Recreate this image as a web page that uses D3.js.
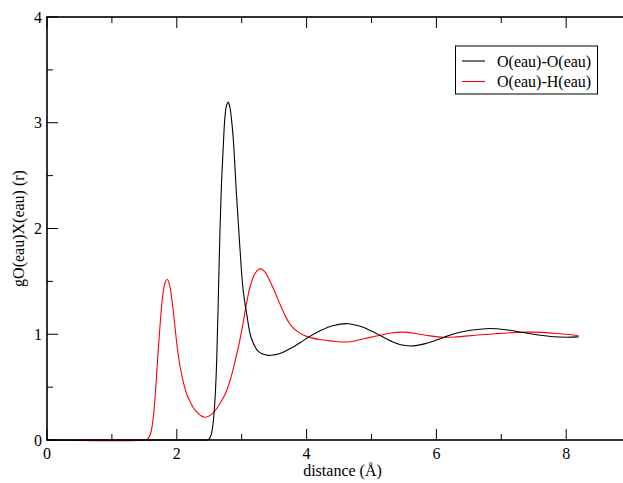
<!DOCTYPE html>
<html><head><meta charset="utf-8">
<script src="https://cdn.jsdelivr.net/npm/d3@7"></script>
<style>
html,body{margin:0;padding:0;background:#fff;}
svg{display:block;}
svg text{font-family:"Liberation Serif","Times New Roman",Times,"Nimbus Roman",Tinos,"FreeSerif","Noto Serif","DejaVu Serif",serif;font-size:16px;}
</style></head>
<body>
<svg id="chart" width="623" height="483"></svg>
<script>
const seriesNames = ["O(eau)-O(eau)", "O(eau)-H(eau)"];
const seriesColors = ["#000000", "#ff0000"];
const xMajorTicks = [0, 2, 4, 6, 8];
const xMinorTicks = [1, 3, 5, 7, 9];
const yMajorTicks = [0, 1, 2, 3, 4];
const yMinorTicks = [0.5, 1.5, 2.5, 3.5];
const xTitle = "distance (Å)";
const yTitle = "gO(eau)X(eau) (r)";

const ooX = [0, 2.40, 2.47, 2.50, 2.53, 2.56, 2.59, 2.615, 2.64, 2.666, 2.69, 2.717, 2.74, 2.765, 2.794, 2.82, 2.845, 2.87, 2.92, 2.97, 3.02, 3.08, 3.15, 3.26, 3.41, 3.50, 3.62, 3.75, 3.90, 4.05, 4.20, 4.40, 4.64, 4.85, 5.00, 5.13, 5.30, 5.45, 5.64, 5.85, 6.00, 6.11, 6.30, 6.55, 6.83, 7.10, 7.40, 7.60, 7.80, 8.00, 8.19];
const ooY = [0, 0, 0.00, 0.01, 0.05, 0.16, 0.40, 0.757, 1.35, 2.0, 2.45, 2.79, 3.04, 3.16, 3.193, 3.14, 3.02, 2.85, 2.32, 1.84, 1.43, 1.18, 0.96, 0.835, 0.80, 0.805, 0.825, 0.865, 0.92, 0.98, 1.03, 1.08, 1.10, 1.07, 1.03, 0.99, 0.935, 0.90, 0.89, 0.915, 0.945, 0.97, 1.01, 1.04, 1.055, 1.04, 1.01, 0.99, 0.977, 0.972, 0.975];

const ohX = [0, 1.50, 1.55, 1.59, 1.62, 1.66, 1.70, 1.74, 1.78, 1.82, 1.853, 1.89, 1.93, 1.97, 2.01, 2.05, 2.10, 2.15, 2.20, 2.25, 2.30, 2.36, 2.43, 2.55, 2.67, 2.75, 2.82, 2.90, 2.97, 3.02, 3.08, 3.13, 3.20, 3.28, 3.35, 3.41, 3.49, 3.60, 3.69, 3.77, 3.85, 4.00, 4.20, 4.40, 4.64, 4.90, 5.13, 5.30, 5.49, 5.70, 5.90, 6.11, 6.30, 6.60, 6.90, 7.24, 7.50, 7.80, 8.00, 8.19];
const ohY = [0, 0, 0.01, 0.05, 0.13, 0.36, 0.72, 1.07, 1.35, 1.49, 1.52, 1.46, 1.30, 1.08, 0.86, 0.70, 0.55, 0.44, 0.37, 0.31, 0.27, 0.235, 0.215, 0.25, 0.35, 0.44, 0.56, 0.75, 0.94, 1.10, 1.31, 1.45, 1.57, 1.62, 1.595, 1.535, 1.43, 1.27, 1.15, 1.075, 1.03, 0.98, 0.95, 0.935, 0.927, 0.96, 0.99, 1.012, 1.02, 1.005, 0.985, 0.972, 0.975, 0.99, 1.005, 1.018, 1.02, 1.01, 1.0, 0.986];

const series = [
  {name: seriesNames[0], color: seriesColors[0], pts: ooX.map((v, i) => [v, ooY[i]])},
  {name: seriesNames[1], color: seriesColors[1], pts: ohX.map((v, i) => [v, ohY[i]])}
];

const svg = d3.select("#chart");
const mLeft = 47, mTop = 17, mBottom = 440;
const pxPerUnit = 64.9;
const xMax = 9.1;
const xs = d3.scaleLinear().domain([0, xMax]).range([mLeft, mLeft + xMax * pxPerUnit]);
const ys = d3.scaleLinear().domain([0, 4]).range([mBottom, mTop]);
const mRight = xs(xMax);

// curves
const line = d3.line().x(d => xs(d[0])).y(d => ys(d[1])).curve(d3.curveCatmullRom.alpha(0.5));
series.slice().reverse().forEach(s => {
  svg.append("path").attr("d", line(s.pts)).attr("fill", "none")
    .attr("stroke", s.color).attr("stroke-width", 1.1);
});

// frame
svg.append("rect").attr("x", mLeft).attr("y", mTop).attr("width", mRight - mLeft).attr("height", mBottom - mTop)
  .attr("fill", "none").attr("stroke", "#000").attr("stroke-width", 1.6);

const tk = svg.append("g").attr("stroke", "#000").attr("stroke-width", 1);
xMajorTicks.forEach(v => {
  tk.append("line").attr("x1", xs(v)).attr("x2", xs(v)).attr("y1", mBottom).attr("y2", mBottom - 11);
  tk.append("line").attr("x1", xs(v)).attr("x2", xs(v)).attr("y1", mTop).attr("y2", mTop + 11);
});
xMinorTicks.forEach(v => {
  tk.append("line").attr("x1", xs(v)).attr("x2", xs(v)).attr("y1", mBottom).attr("y2", mBottom - 6);
  tk.append("line").attr("x1", xs(v)).attr("x2", xs(v)).attr("y1", mTop).attr("y2", mTop + 6);
});
yMajorTicks.forEach(v => {
  tk.append("line").attr("x1", mLeft).attr("x2", mLeft + 11).attr("y1", ys(v)).attr("y2", ys(v));
});
yMinorTicks.forEach(v => {
  tk.append("line").attr("x1", mLeft).attr("x2", mLeft + 6).attr("y1", ys(v)).attr("y2", ys(v));
});

// tick labels
xMajorTicks.forEach(v => {
  svg.append("text").attr("x", xs(v)).attr("y", 458.5).attr("text-anchor", "middle").text(v);
});
yMajorTicks.forEach(v => {
  svg.append("text").attr("x", 42).attr("y", ys(v) + 5.5).attr("text-anchor", "end").text(v);
});

// titles
svg.append("text").attr("x", 342.5).attr("y", 476).attr("text-anchor", "middle").text(xTitle);
svg.append("text").attr("transform", `translate(24,${(mTop + mBottom) / 2}) rotate(-90)`)
  .attr("text-anchor", "middle").text(yTitle);

// legend
const lg = svg.append("g");
lg.append("rect").attr("x", 455.5).attr("y", 46).attr("width", 142).attr("height", 48)
  .attr("fill", "#fff").attr("stroke", "#000").attr("stroke-width", 1);
series.forEach((s, i) => {
  const ly = 61 + i * 20.5;
  lg.append("line").attr("x1", 462).attr("x2", 485).attr("y1", ly).attr("y2", ly)
    .attr("stroke", s.color).attr("stroke-width", 1.1);
  lg.append("text").attr("x", 497).attr("y", ly + 5.5).text(s.name);
});
</script>
</body></html>
